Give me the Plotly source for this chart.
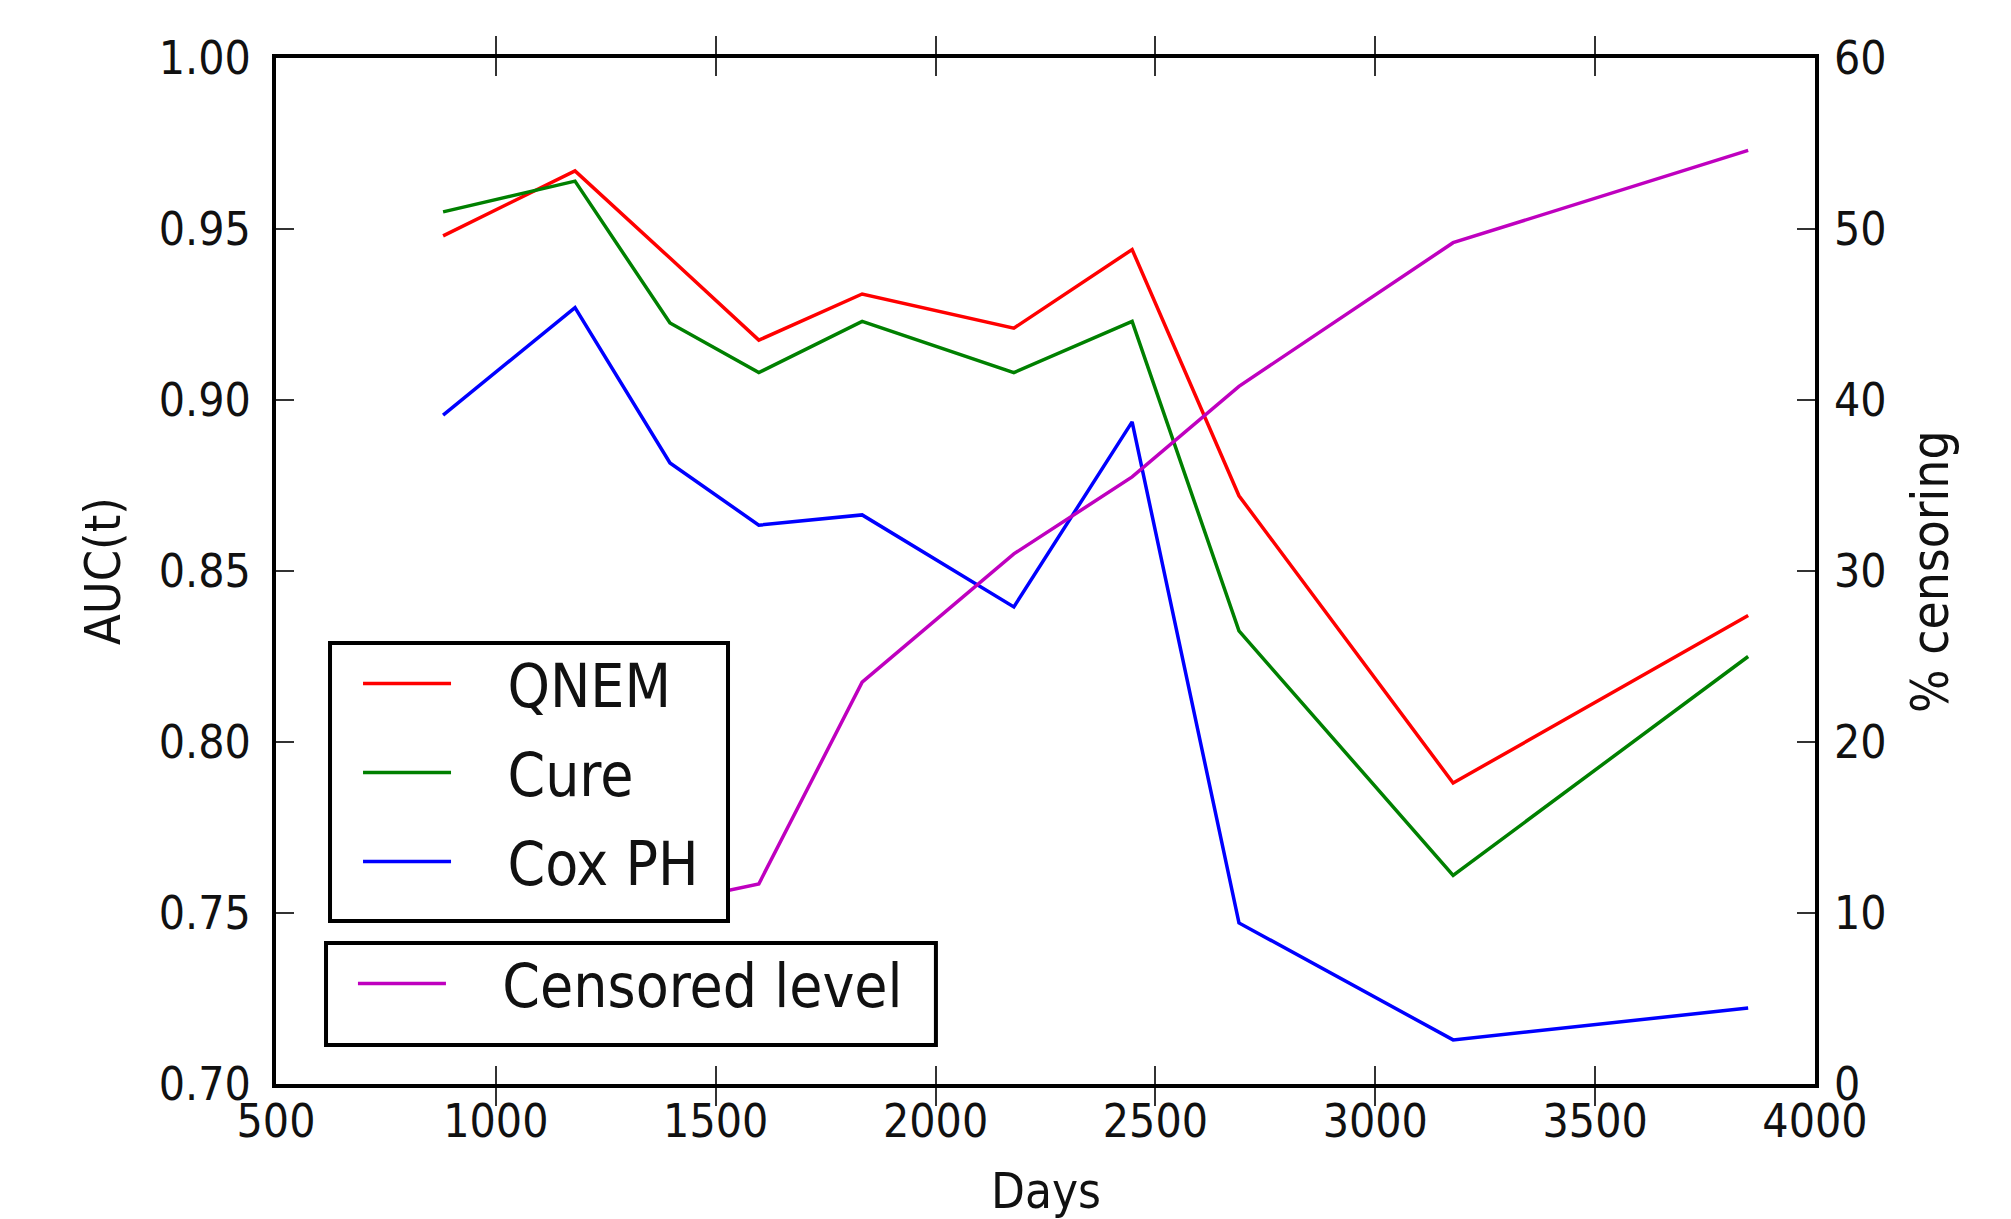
import plotly.graph_objects as go

# ---- data ----
days = [880, 1180, 1396, 1598, 1833, 2178, 2447, 2690, 3177, 3848]
qnem = [0.948, 0.967, 0.9415, 0.9175, 0.931, 0.921, 0.944, 0.872, 0.788, 0.837]
cure = [0.955, 0.964, 0.9225, 0.908, 0.923, 0.908, 0.923, 0.8325, 0.761, 0.825]
cox_ph = [0.8956, 0.927, 0.8816, 0.8634, 0.8664, 0.8395, 0.8936, 0.7471, 0.7129, 0.7222]
censored_pct = [10.2, 10.4, 10.6, 11.7, 23.5, 31.0, 35.5, 40.8, 49.2, 54.6]

x_ticks = [500, 1000, 1500, 2000, 2500, 3000, 3500, 4000]
y_ticks = [0.70, 0.75, 0.80, 0.85, 0.90, 0.95, 1.00]
y2_ticks = [0, 10, 20, 30, 40, 50, 60]

FONT = "DejaVu Sans Condensed, DejaVu Sans, sans-serif"
# page has an 8px body margin; compensate so plot area sits at x 276-1815, y 58-1084
W, H = 2003, 1211
L, R, T, B = 268, 196, 50, 135
NB = "\u00a0\u00a0\u00a0"
LW = 3.5
TICKLEN = 18

fig = go.Figure()
fig.add_trace(go.Scatter(x=days, y=qnem, mode="lines", name=NB + "QNEM",
                         line=dict(color="#ff0000", width=LW), legendgroup="a"))
fig.add_trace(go.Scatter(x=days, y=cure, mode="lines", name=NB + "Cure",
                         line=dict(color="#008000", width=LW), legendgroup="b"))
fig.add_trace(go.Scatter(x=days, y=cox_ph, mode="lines", name=NB + "Cox PH",
                         line=dict(color="#0000ff", width=LW), legendgroup="c"))
fig.add_trace(go.Scatter(x=days, y=censored_pct, mode="lines", name=NB + "Censored level",
                         line=dict(color="#bf00bf", width=LW), yaxis="y2",
                         legend="legend2"))

axis_common = dict(showgrid=False, zeroline=False, ticks="inside", ticklen=TICKLEN,
                   tickwidth=2, tickcolor="#333",
                   tickfont=dict(family=FONT, size=46, color="#111"))

# white boxes with black frames behind the two legends (they hide the lines, as in the reference)
legend_boxes = [
    dict(type="rect", xref="paper", yref="paper", x0=0.0351, x1=0.2937,
         y0=0.1589, y1=0.4298, line=dict(color="black", width=4),
         fillcolor="white", layer="above"),
    dict(type="rect", xref="paper", yref="paper", x0=0.0325, x1=0.4288,
         y0=0.0380, y1=0.1374, line=dict(color="black", width=4),
         fillcolor="white", layer="above"),
]

fig.update_layout(
    width=W, height=H,
    margin=dict(l=L, r=R, t=T, b=B, autoexpand=False),
    paper_bgcolor="white", plot_bgcolor="white",
    font=dict(family=FONT, color="#111"),
    showlegend=True,
    xaxis=dict(range=[500, 4000], tickvals=x_ticks, ticktext=[str(v) for v in x_ticks],
               showline=True, linewidth=4, linecolor="black", mirror="allticks",
               ticklabelstandoff=-6, **axis_common),
    yaxis=dict(range=[0.70, 1.00], tickvals=y_ticks, ticktext=[f"{v:.2f}" for v in y_ticks],
               showline=True, linewidth=4, linecolor="black", mirror=True,
               ticklabelstandoff=12, **axis_common),
    yaxis2=dict(range=[0, 60], tickvals=y2_ticks, ticktext=[str(v) for v in y2_ticks],
                overlaying="y", side="right", showline=False,
                ticklabelstandoff=18, **axis_common),
    legend=dict(x=0.0533, y=0.4347, xanchor="left", yanchor="top",
                bgcolor="rgba(0,0,0,0)", borderwidth=0,
                font=dict(family=FONT, size=60, color="#111"),
                traceorder="grouped", tracegroupgap=8, itemwidth=88),
    legend2=dict(x=0.0500, y=0.1423, xanchor="left", yanchor="top",
                 bgcolor="rgba(0,0,0,0)", borderwidth=0,
                 font=dict(family=FONT, size=60, color="#111"), itemwidth=88),
    shapes=legend_boxes,
    annotations=[
        dict(text="Days", xref="paper", yref="paper", x=0.5, y=-0.1043,
             xanchor="center", yanchor="middle", showarrow=False,
             font=dict(family=FONT, size=49, color="#111")),
        dict(text="AUC(t)", xref="paper", yref="paper", x=-0.1124, y=0.5,
             xanchor="center", yanchor="middle", showarrow=False, textangle=-90,
             font=dict(family=FONT, size=50, color="#111")),
        dict(text="% censoring", xref="paper", yref="paper", x=1.0747, y=0.5,
             xanchor="center", yanchor="middle", showarrow=False, textangle=-90,
             font=dict(family=FONT, size=51, color="#111")),
    ],
)

fig.write_html("out.html")
